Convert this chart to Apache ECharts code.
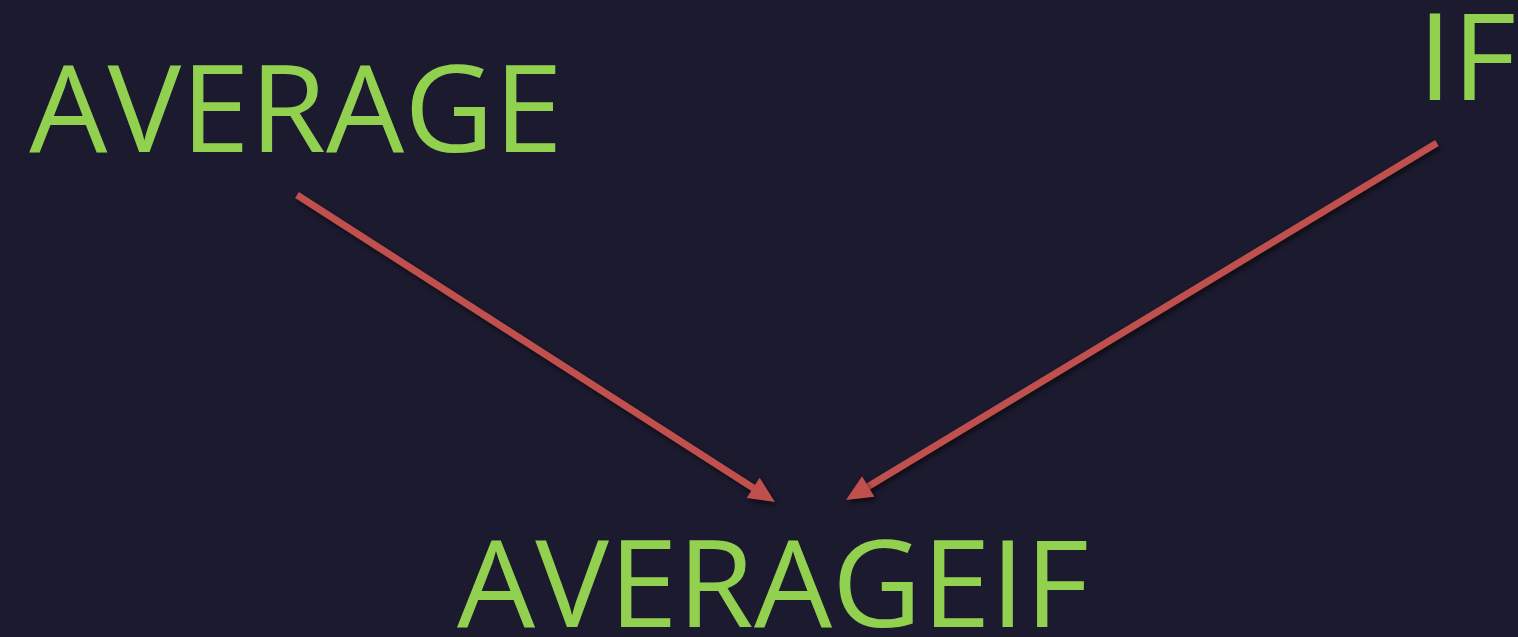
<!DOCTYPE html>
<html>
<head>
<meta charset="utf-8">
<script src="https://cdn.jsdelivr.net/npm/echarts@6/dist/echarts.min.js"></script>
<style>
html, body { margin: 0; padding: 0; background: #1c1a2e; }
#chart { width: 1518px; height: 637px; }
</style>
</head>
<body>
<div id="chart"></div>
<script>
// terms and how they combine
var terms = ['AVERAGE', 'IF', 'AVERAGEIF'];
var links = [['AVERAGE', 'AVERAGEIF'], ['IF', 'AVERAGEIF']];

// layout: text centre and arrow start / tip
var termPos = { AVERAGE: [296, 118], IF: [1467, 66], AVERAGEIF: [773, 593] };
var arrowPos = [[[297, 195], [775, 502]], [[1437, 143], [846, 500]]];

var green = '#92d050';
var red = '#c0504d';
var fontSize = 120;

var myChart = echarts.init(document.getElementById('chart'));

var elements = [];
terms.forEach(function (t) {
    var p = termPos[t];
    elements.push({
        type: 'text',
        x: p[0],
        y: p[1],
        scaleX: 1.03,
        style: {
            text: t,
            fill: green,
            font: fontSize + 'px "Open Sans"',
            align: 'center',
            verticalAlign: 'middle'
        }
    });
});

var shadow = { shadowBlur: 5, shadowOffsetX: 2, shadowOffsetY: 3, shadowColor: 'rgba(0,0,0,0.55)' };
links.forEach(function (l, i) {
    var a = arrowPos[i][0], b = arrowPos[i][1];
    var dx = b[0] - a[0], dy = b[1] - a[1];
    var len = Math.sqrt(dx * dx + dy * dy);
    var ux = dx / len, uy = dy / len;
    var headLen = 26, headW = 12;
    var bx = b[0] - ux * headLen, by = b[1] - uy * headLen;
    elements.push({
        type: 'line',
        shape: { x1: a[0], y1: a[1], x2: bx + ux * 2, y2: by + uy * 2 },
        style: Object.assign({ stroke: red, lineWidth: 7 }, shadow)
    });
    elements.push({
        type: 'polygon',
        shape: { points: [b, [bx - uy * headW, by + ux * headW], [bx + uy * headW, by - ux * headW]] },
        style: Object.assign({ fill: red }, shadow)
    });
});

var option = {
    backgroundColor: '#1c1a2e',
    graphic: { elements: elements }
};
myChart.setOption(option);
</script>
</body>
</html>
